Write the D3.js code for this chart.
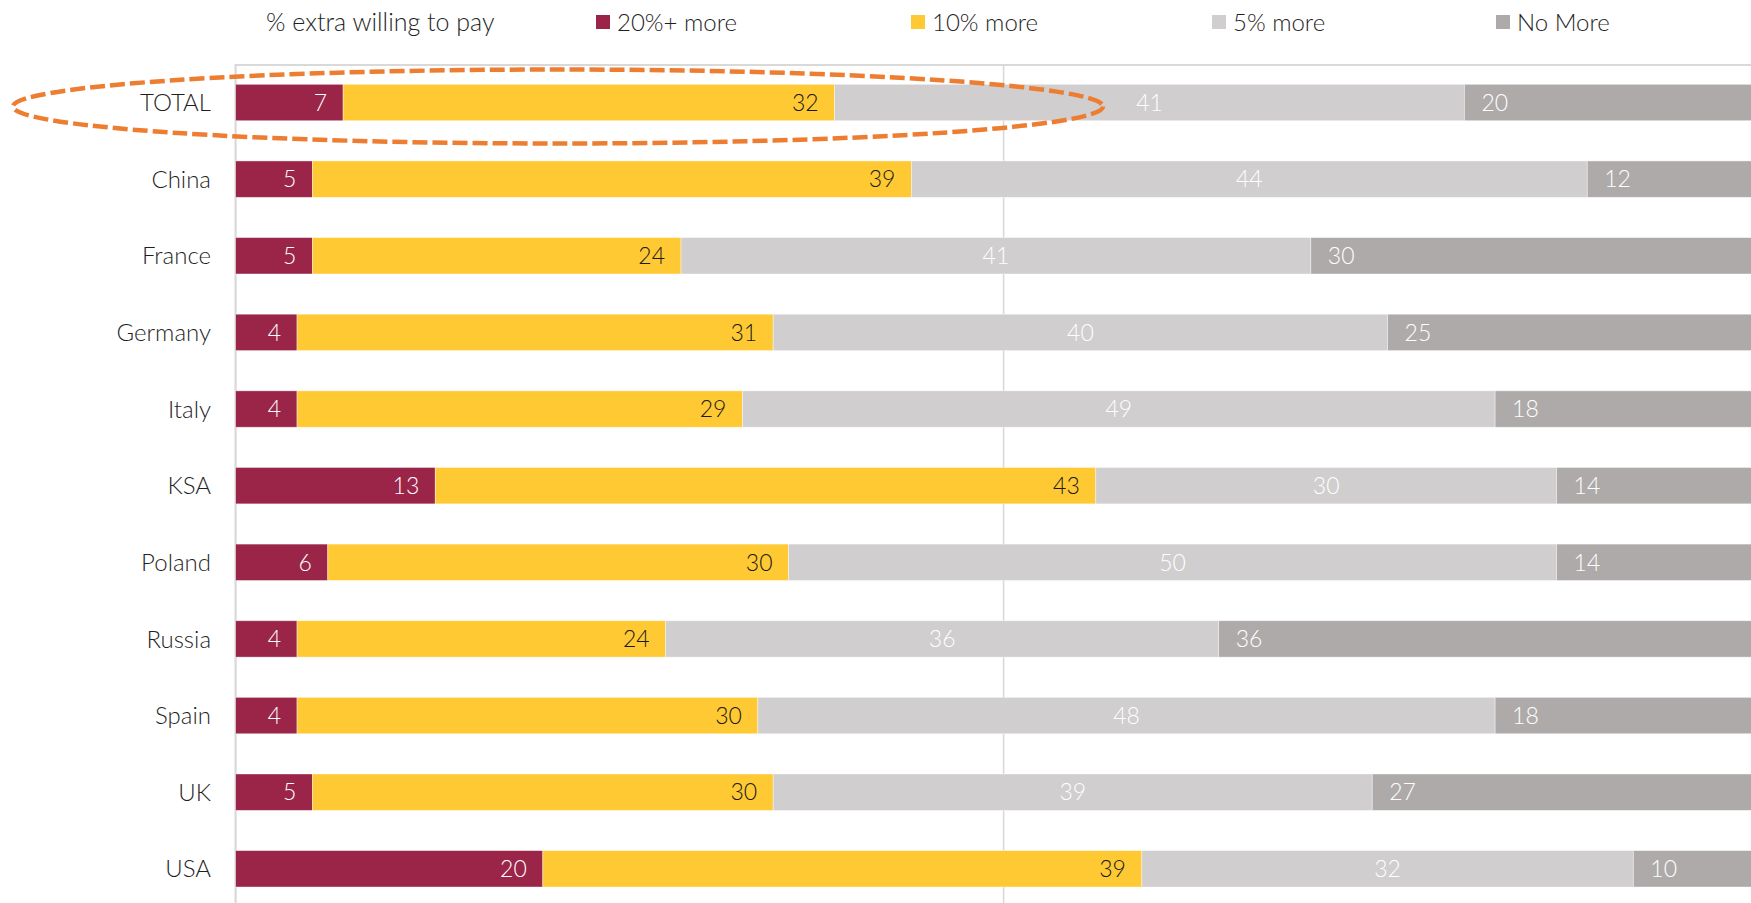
<!DOCTYPE html>
<html>
<head>
<meta charset="utf-8">
<script src="https://cdn.jsdelivr.net/npm/d3@7"></script>
<style>
    body { margin: 0; background: #fff; }
    #chart { width: 1751px; height: 903px; overflow: hidden; }
    svg { font-family: Lato, "Open Sans", sans-serif; }
</style>
</head>
<body>
<div id="chart"></div>
<script>
// Data
const countries = ["TOTAL", "China", "France", "Germany", "Italy", "KSA", "Poland", "Russia", "Spain", "UK", "USA"];
const more20 = [7, 5, 5, 4, 4, 13, 6, 4, 4, 5, 20];
const more10 = [32, 39, 24, 31, 29, 43, 30, 24, 30, 30, 39];
const more5 = [41, 44, 41, 40, 49, 30, 50, 36, 48, 39, 32];
const noMore = [20, 12, 30, 25, 18, 14, 14, 36, 18, 27, 10];
const seriesNames = ["20%+ more", "10% more", "5% more", "No More"];
const gridTicks = [0, 50, 100];

class StackedBarVis {

    constructor(_parentElement) {
        this.parentElement = _parentElement;
        this.initVis();
    }

    initVis() {
        let vis = this;

        vis.width = 1751;
        vis.height = 903;

        vis.svg = d3.select("#" + vis.parentElement).append("svg")
            .attr("width", vis.width)
            .attr("height", vis.height);

        vis.keys = ["m20", "m10", "m5", "none"];
        vis.colors = d3.scaleOrdinal()
            .domain(vis.keys)
            .range(["#9a2549", "#ffc933", "#d0cece", "#aeaaaa"]);
        vis.labelColors = { m20: "#ffffff", m10: "#1a1a1a", m5: "#ffffff", none: "#ffffff" };

        // chart is cropped on the right and bottom, like the original slide
        vis.x = d3.scaleLinear()
            .domain([0, 100])
            .range([235.6, 235.6 + 1536]);

        vis.y = d3.scaleBand()
            .domain(countries)
            .range([64.2, 64.2 + 11 * 76.63])
            .paddingInner(0.525)
            .paddingOuter(0.2625);

        vis.wrangleData();
    }

    wrangleData() {
        let vis = this;

        vis.rows = countries.map((c, i) => ({
            country: c, m20: more20[i], m10: more10[i], m5: more5[i], none: noMore[i]
        }));

        vis.stacked = d3.stack().keys(vis.keys)(vis.rows);

        vis.updateVis();
    }

    updateVis() {
        let vis = this;

        // gridlines
        vis.svg.append("line")
            .attr("x1", vis.x(0)).attr("x2", vis.width)
            .attr("y1", 65).attr("y2", 65)
            .attr("stroke", "#d9d9d9").attr("stroke-width", 2);

        vis.svg.selectAll(".grid")
            .data(gridTicks)
            .enter().append("line")
            .attr("class", "grid")
            .attr("x1", d => vis.x(d)).attr("x2", d => vis.x(d))
            .attr("y1", 64).attr("y2", vis.height)
            .attr("stroke", "#d9d9d9")
            .attr("stroke-width", d => d === 0 ? 2.2 : 1.6);

        // bars
        let groups = vis.svg.selectAll(".series")
            .data(vis.stacked)
            .enter().append("g")
            .attr("class", "series")
            .attr("fill", d => vis.colors(d.key));

        groups.selectAll("rect")
            .data(d => d)
            .enter().append("rect")
            .attr("x", d => vis.x(d[0]))
            .attr("y", d => vis.y(d.data.country))
            .attr("width", d => vis.x(d[1]) - vis.x(d[0]))
            .attr("height", vis.y.bandwidth())
            .attr("stroke", "#ffffff")
            .attr("stroke-opacity", 0.5)
            .attr("stroke-width", 0.8);

        // data labels
        groups.selectAll("text")
            .data(d => d.map(v => ({ key: d.key, v: v })))
            .enter().append("text")
            .attr("x", d => {
                if (d.key === "m5") return (vis.x(d.v[0]) + vis.x(d.v[1])) / 2;
                if (d.key === "none") return vis.x(d.v[0]) + 17;
                return vis.x(d.v[1]) - 16;
            })
            .attr("y", d => vis.y(d.v.data.country) + vis.y.bandwidth() / 2)
            .attr("dy", "0.36em")
            .attr("text-anchor", d => d.key === "m5" ? "middle" : (d.key === "none" ? "start" : "end"))
            .attr("fill", d => vis.labelColors[d.key])
            .style("font-size", "23px")
            .style("font-weight", 300)
            .text(d => d.v.data[d.key]);

        // category labels
        vis.svg.selectAll(".cat")
            .data(countries)
            .enter().append("text")
            .attr("class", "cat")
            .attr("x", 211)
            .attr("y", d => vis.y(d) + vis.y.bandwidth() / 2)
            .attr("dy", "0.36em")
            .attr("text-anchor", "end")
            .attr("fill", "#1f1f1f")
            .style("font-size", "24px")
            .style("font-weight", 300)
            .text(d => d);

        // legend
        let legend = vis.svg.append("g").attr("class", "legend");
        legend.append("text")
            .attr("x", 266).attr("y", 22)
            .attr("dy", "0.36em")
            .attr("fill", "#1f1f1f")
            .style("font-size", "25px")
            .style("font-weight", 300)
            .text("% extra willing to pay");

        let legendX = [596, 911, 1212, 1496];
        let items = legend.selectAll(".item")
            .data(vis.keys)
            .enter().append("g")
            .attr("class", "item")
            .attr("transform", (d, i) => "translate(" + legendX[i] + ",0)");

        items.append("rect")
            .attr("x", 0).attr("y", 15)
            .attr("width", 14).attr("height", 14)
            .attr("fill", d => vis.colors(d));

        items.append("text")
            .attr("x", 21).attr("y", 22)
            .attr("dy", "0.36em")
            .attr("fill", "#1f1f1f")
            .style("font-size", "24px")
            .style("font-weight", 300)
            .text((d, i) => seriesNames[i]);

        // highlight around TOTAL
        vis.svg.append("ellipse")
            .attr("cx", 558).attr("cy", 106.5)
            .attr("rx", 545).attr("ry", 37)
            .attr("fill", "none")
            .attr("stroke", "#ed7d31")
            .attr("stroke-width", 4.5)
            .attr("stroke-dasharray", "15 5");
    }
}

new StackedBarVis("chart");
</script>
</body>
</html>
